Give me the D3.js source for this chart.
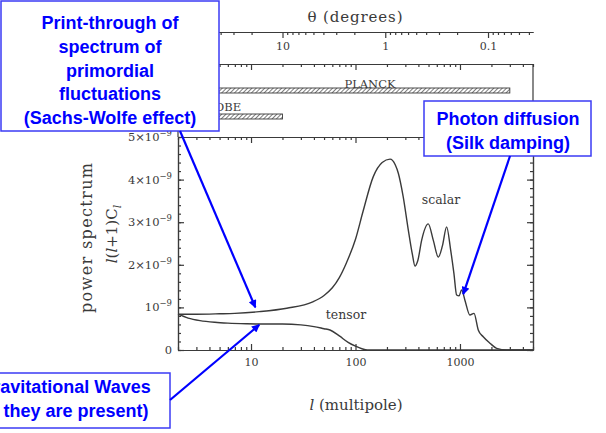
<!DOCTYPE html>
<html><head><meta charset="utf-8">
<script src="https://cdn.jsdelivr.net/npm/d3@7"></script>
<style>body{margin:0;background:#fff}svg{display:block}</style>
</head><body>
<svg id="c" width="606" height="433"></svg>
<script>
// ---- data (values in units of 1e-9) ----
const scalarL = [2, 3, 5, 7, 12, 22, 39, 50, 60, 70, 82, 100, 118, 148, 180, 214, 240, 257, 286, 320, 350, 371, 395, 430, 497, 555, 620, 680, 745, 814, 875, 929, 980, 1037, 1115, 1245, 1362, 1496, 1670, 1936, 2243, 2800, 5000];
const scalarV = [0.84, 0.84, 0.85, 0.86, 0.90, 0.98, 1.13, 1.28, 1.46, 1.70, 2.05, 2.60, 3.25, 4.07, 4.40, 4.48, 4.35, 4.15, 3.60, 2.82, 2.25, 1.97, 2.10, 2.58, 2.96, 2.58, 2.18, 2.45, 2.89, 2.35, 1.80, 1.29, 1.27, 1.41, 1.17, 0.82, 0.86, 0.47, 0.31, 0.16, 0.04, 0.0, 0.0];
const tensorL = [2, 2.5, 3.25, 4.5, 6, 9, 12, 20, 30, 40, 50, 57, 70, 85, 100, 115, 130, 5000];
const tensorV = [0.84, 0.75, 0.69, 0.65, 0.63, 0.615, 0.61, 0.61, 0.59, 0.55, 0.50, 0.47, 0.33, 0.18, 0.09, 0.03, 0.0, 0.0];
const xTicks = [10, 100, 1000];
const yTicks = [0, 1, 2, 3, 4, 5];
const yTickMantissa = ["0", "", "2\u00d7", "3\u00d7", "4\u00d7", "5\u00d7"];
const thetaTicks = [10, 1, 0.1];
const experiments = ["PLANCK", "COBE"];
const experimentLmax = [3000, 20];
const seriesNames = ["scalar", "tensor"];
const note1 = ["Print-through of", "spectrum of", "primordial", "fluctuations", "(Sachs-Wolfe effect)"];
const note2 = ["Photon diffusion", "(Silk damping)"];
const note3 = ["Gravitational Waves", "(if they are present)"];
const arrowTargets = [[11, 1.0], [1075, 1.31], [12, 0.59]];

// ---- scales ----
const x = d3.scaleLog().domain([2, 5000]).range([178, 533]);
const y = d3.scaleLinear().domain([0, 5]).range([350, 137]);
const theta = d3.scaleLog().domain([104, 0.0365]).range([178, 533]);

const svg = d3.select("#c");
const ink = "#3a3a3a";
const serif = "'DejaVu Serif', serif";
const blue = "#0000ff";

const defs = svg.append("defs");
const pat = defs.append("pattern").attr("id", "hatch").attr("patternUnits", "userSpaceOnUse")
  .attr("width", 3).attr("height", 3).attr("patternTransform", "rotate(45)");
pat.append("rect").attr("width", 3).attr("height", 3).attr("fill", "#fff");
pat.append("line").attr("x1", 0).attr("y1", 0).attr("x2", 0).attr("y2", 3).attr("stroke", "#444").attr("stroke-width", 1.4);
defs.append("marker").attr("id", "ah").attr("viewBox", "0 0 10 10").attr("refX", 9).attr("refY", 5)
  .attr("markerUnits", "userSpaceOnUse").attr("markerWidth", 10).attr("markerHeight", 8).attr("orient", "auto")
  .append("path").attr("d", "M0,0 L10,5 L0,10 z").attr("fill", blue);

function styleAxis(g) {
  g.selectAll("path,line").attr("stroke", ink).attr("stroke-width", 1.2);
  g.selectAll("text").attr("fill", ink).attr("font-family", serif).attr("font-size", 11);
}
const lMinor = x.ticks().filter(d => !xTicks.includes(d));
const yMinor = d3.range(0, 5.01, 0.2);

// bottom axis
svg.append("g").attr("transform", "translate(0,350)")
  .call(d3.axisBottom(x).tickValues(xTicks).tickSize(-6).tickSizeOuter(0).tickPadding(8).tickFormat(d3.format("d")))
  .call(styleAxis);
svg.append("g").attr("transform", "translate(0,350)")
  .call(d3.axisBottom(x).tickValues(lMinor).tickSize(-3).tickSizeOuter(0).tickFormat(""))
  .call(styleAxis);
// top of main plot and of experiments panel
[137, 64].forEach(yy => {
  svg.append("g").attr("transform", `translate(0,${yy})`)
    .call(d3.axisTop(x).tickValues(xTicks).tickSize(-6).tickSizeOuter(0).tickFormat(""))
    .call(styleAxis);
  svg.append("g").attr("transform", `translate(0,${yy})`)
    .call(d3.axisTop(x).tickValues(lMinor).tickSize(-3).tickSizeOuter(0).tickFormat(""))
    .call(styleAxis);
});
// left axis
svg.append("g").attr("transform", "translate(178,0)")
  .call(d3.axisLeft(y).tickValues(yTicks).tickSize(-6).tickSizeOuter(0).tickFormat(""))
  .call(styleAxis);
svg.append("g").attr("transform", "translate(178,0)")
  .call(d3.axisLeft(y).tickValues(yMinor).tickSize(-3).tickSizeOuter(0).tickFormat(""))
  .call(styleAxis);
// right axis
svg.append("g").attr("transform", "translate(533,0)")
  .call(d3.axisRight(y).tickValues(yTicks).tickSize(-6).tickSizeOuter(0).tickFormat(""))
  .call(styleAxis);
svg.append("g").attr("transform", "translate(533,0)")
  .call(d3.axisRight(y).tickValues(yMinor).tickSize(-3).tickSizeOuter(0).tickFormat(""))
  .call(styleAxis);
svg.append("line").attr("x1", 533).attr("x2", 533).attr("y1", 64).attr("y2", 137).attr("stroke", ink).attr("stroke-width", 1.2);
svg.append("line").attr("x1", 178).attr("x2", 178).attr("y1", 64).attr("y2", 137).attr("stroke", ink).attr("stroke-width", 1.2);

// y tick labels
const yl = svg.append("g").attr("font-family", serif).attr("fill", ink).attr("font-size", 11.5);
yTicks.forEach((v, i) => {
  const t = yl.append("text").attr("x", 172).attr("y", y(v) + 4).attr("text-anchor", "end");
  if (v === 0) { t.text("0"); return; }
  t.append("tspan").text(yTickMantissa[i] + "10");
  t.append("tspan").attr("font-size", 8.5).attr("dy", -5).text("\u22129");
});

// theta axis
svg.append("g").attr("transform", "translate(0,32)")
  .call(d3.axisBottom(theta).tickValues(thetaTicks).tickSize(6).tickSizeOuter(0).tickPadding(4).tickFormat(d => String(d)))
  .call(styleAxis);
svg.append("g").attr("transform", "translate(0,32)")
  .call(d3.axisBottom(theta).tickValues(theta.ticks().filter(d => !thetaTicks.includes(d))).tickSize(3).tickSizeOuter(0).tickFormat(""))
  .call(styleAxis);

// experiments bars
const barY = [88, 114];
experiments.forEach((name, i) => {
  svg.append("rect").attr("x", x(2)).attr("y", barY[i]).attr("width", x(experimentLmax[i]) - x(2)).attr("height", 5)
    .attr("fill", "url(#hatch)").attr("stroke", ink).attr("stroke-width", 0.9);
});
svg.append("text").attr("x", 370).attr("y", 88).attr("text-anchor", "middle").attr("font-family", serif)
  .attr("font-size", 11.5).attr("fill", ink).text(experiments[0]);
svg.append("text").attr("x", 206).attr("y", 111).attr("font-family", serif)
  .attr("font-size", 11.5).attr("fill", ink).text(experiments[1]);

// curves
const line = d3.line().x(d => x(d[0])).y(d => y(d[1])).curve(d3.curveMonotoneX);
svg.append("path").datum(scalarL.map((l, i) => [l, scalarV[i]])).attr("d", line)
  .attr("fill", "none").attr("stroke", ink).attr("stroke-width", 1.4);
svg.append("path").datum(tensorL.map((l, i) => [l, tensorV[i]])).attr("d", line)
  .attr("fill", "none").attr("stroke", ink).attr("stroke-width", 1.4);
svg.append("text").attr("x", 441).attr("y", 204).attr("text-anchor", "middle").attr("font-family", serif)
  .attr("font-size", 12.5).attr("fill", ink).text(seriesNames[0]);
svg.append("text").attr("x", 346).attr("y", 319).attr("text-anchor", "middle").attr("font-family", serif)
  .attr("font-size", 12.5).attr("fill", ink).text(seriesNames[1]);

// titles
svg.append("text").attr("x", 355).attr("y", 22).attr("text-anchor", "middle").attr("font-family", serif)
  .attr("font-size", 15).attr("fill", ink).attr("textLength", 95).text("\u03b8 (degrees)");
const xt = svg.append("text").attr("x", 356).attr("y", 410).attr("text-anchor", "middle").attr("font-family", serif)
  .attr("font-size", 15).attr("fill", ink);
xt.append("tspan").attr("font-style", "italic").text("l");
xt.append("tspan").text(" (multipole)");
svg.append("text").attr("transform", "translate(92,238) rotate(-90)").attr("text-anchor", "middle").attr("font-family", serif)
  .attr("font-size", 16).attr("fill", ink).attr("textLength", 150).text("power spectrum");
const yt = svg.append("text").attr("transform", "translate(117,234) rotate(-90)").attr("text-anchor", "middle")
  .attr("font-family", serif).attr("font-size", 15).attr("fill", ink);
yt.append("tspan").attr("font-style", "italic").text("l");
yt.append("tspan").text("(");
yt.append("tspan").attr("font-style", "italic").text("l");
yt.append("tspan").text("+1)C");
yt.append("tspan").attr("font-style", "italic").attr("font-size", 11).attr("dy", 4).text("l");

// annotations
function box(x0, y0, w, h, lines, cx, baselines) {
  svg.append("rect").attr("x", x0).attr("y", y0).attr("width", w).attr("height", h)
    .attr("fill", "#fff").attr("stroke", "#3b3bf5").attr("stroke-width", 1.5);
  lines.forEach((t, i) => svg.append("text").attr("x", cx).attr("y", baselines[i]).attr("text-anchor", "middle")
    .attr("font-family", "'Liberation Sans', Arial, sans-serif").attr("font-weight", "bold").attr("font-size", 18)
    .attr("fill", blue).text(t));
}
function arrow(x0, y0, target) {
  svg.append("line").attr("x1", x0).attr("y1", y0).attr("x2", x(target[0])).attr("y2", y(target[1]))
    .attr("stroke", blue).attr("stroke-width", 2.2).attr("marker-end", "url(#ah)");
}
box(1, 1, 218, 130, note1, 110, [29, 53, 76.5, 100, 123.5]);
box(424, 101, 167, 55, note2, 508, [124.5, 148.5]);
box(-40, 373, 210, 55, note3, 65, [392.5, 417]);
arrow(180, 131, arrowTargets[0]);
arrow(510, 156, arrowTargets[1]);
arrow(170, 400, arrowTargets[2]);
</script>
</body></html>
